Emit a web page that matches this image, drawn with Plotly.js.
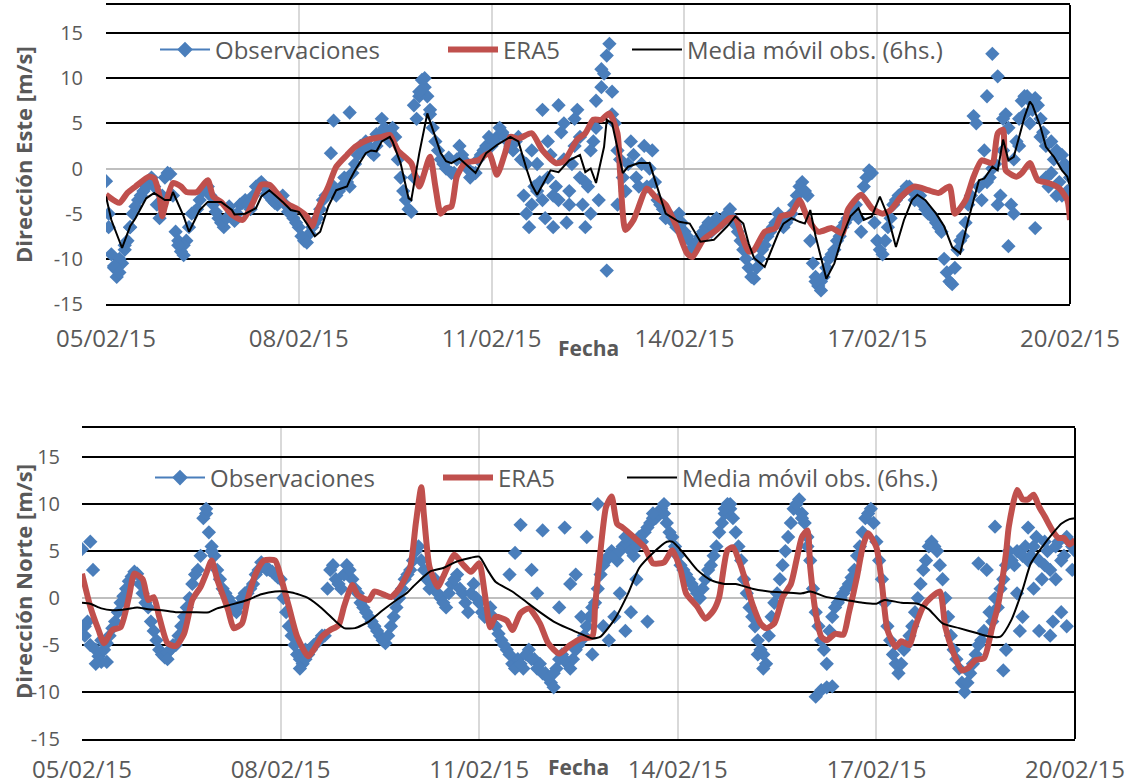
<!DOCTYPE html>
<html>
<head>
<meta charset="utf-8">
<script src="https://cdn.plot.ly/plotly-3.0.1.min.js"></script>
<style>html,body{margin:0;padding:0;background:#fff;}#chart{width:1126px;height:784px;}</style>
</head>
<body>
<div id="chart"></div>
<script>
// ---------------- DATA ----------------
const startDate = '2015-02-05';
const endDate = '2015-02-20';
const xTickDates = ['2015-02-05','2015-02-08','2015-02-11','2015-02-14','2015-02-17','2015-02-20'];
const xTickLabels = ['05/02/15','08/02/15','11/02/15','14/02/15','17/02/15','20/02/15'];
const yTickVals = [-15,-10,-5,0,5,10,15];
const yTickLabels = ['-15','-10','-5','0','5','10','15'];

// Observations are hourly: "Even" arrays hold hours 0,2,4,...,360 and "Odd" arrays hours 1,3,...,359.
// Top chart: Dirección Este
const obsTopEvenV = [
 -1.4,-9.5,-12.0,-10.5,-8.0,-5.0,-3.5,-2.5,-1.5,-2.0,-5.5,-1.0,
 -0.6,-7.0,-9.2,-8.0,-5.0,-4.5,-2.5,-2.0,-4.0,-5.5,-6.5,-4.2,
 -5.8,-4.0,-3.5,-4.5,-2.0,-1.5,-2.8,-3.5,-4.0,-3.0,-4.8,-5.5,
 -6.5,-8.0,-7.2,-6.0,-4.5,-3.0,-2.5,-3.0,-2.0,-1.5,-0.5,1.5,
 2.0,2.5,1.5,3.5,4.5,3.0,3.5,-1.0,-3.5,-4.8,5.5,9.8,
 8.0,4.5,2.0,0.5,1.2,-0.5,2.5,0.8,-1.0,-0.5,1.5,2.5,
 2.5,3.5,4.0,3.0,2.0,3.5,-3.0,-6.5,-2.0,-1.5,-5.5,1.5,
 -2.0,4.0,-6.0,0.5,6.5,-4.0,-2.0,3.0,-3.5,10.5,13.8,5.0,
 1.0,-2.5,3.0,-1.0,0.5,-2.0,2.0,-3.5,-4.5,-5.0,-6.0,-5.0,
 -7.0,-8.0,-8.5,-7.5,-6.5,-7.0,-5.5,-6.0,-5.0,-5.5,-7.0,-9.0,
 -11.0,-12.2,-10.0,-8.5,-7.0,-6.0,-5.5,-6.0,-5.0,-3.0,-1.5,-3.0,
 -10.5,-13.0,-12.0,-10.0,-9.0,-7.5,-6.0,-5.0,-4.0,-7.0,-1.0,-0.5,
 -8.0,-9.5,-6.5,-4.0,-3.0,-2.5,-2.0,-3.5,-3.0,-4.5,-5.0,-6.0,
 -7.0,-11.5,-12.8,-9.0,-7.5,-4.0,5.8,-2.0,2.0,-1.0,0.5,-3.0,
 6.0,-4.0,3.0,7.5,8.0,6.5,7.0,4.0,-2.0,1.0,-1.5,0.5,-1.0
];
const obsTopOddV = [
 -6.5,-11.0,-10.0,-9.0,-6.5,-4.2,-3.0,-2.0,-1.0,-4.0,-3.0,-0.5,
 -3.0,-8.0,-8.5,-6.5,-4.8,-3.5,-2.2,-3.0,-4.8,-6.0,-5.5,-5.0,
 -5.0,-3.8,-4.0,-3.0,-1.8,-2.0,-3.0,-3.8,-3.5,-4.0,-5.0,-6.0,
 -7.5,-8.2,-6.5,-5.5,-3.5,-2.8,-2.0,-2.5,-1.0,-2.0,0.5,2.5,
 3.0,1.8,2.5,4.0,3.5,4.5,1.0,-2.5,-4.5,-1.0,8.0,9.0,
 6.0,3.0,1.0,0.0,-0.5,1.0,1.5,0.0,-0.5,1.0,2.0,3.5,
 3.0,4.5,3.5,2.5,3.0,1.0,-5.0,-4.0,0.5,-3.5,-1.0,-3.0,
 -3.5,5.0,-2.5,2.5,3.5,-1.5,-5.0,4.5,9.0,12.5,6.0,2.0,
 -1.0,0.5,1.5,-2.0,2.5,0.0,-1.5,-4.0,-5.5,-5.5,-6.5,-6.0,
 -7.5,-8.8,-8.0,-7.0,-6.0,-6.5,-6.0,-5.5,-4.5,-6.2,-8.0,-10.0,
 -12.0,-11.0,-9.0,-7.5,-6.5,-5.0,-6.5,-5.5,-4.0,-2.0,-2.5,-8.0,
 -12.0,-12.5,-11.0,-9.5,-8.0,-6.5,-5.5,-4.5,-5.5,-2.0,-0.2,-6.0,
 -9.0,-8.0,-5.5,-3.5,-2.8,-2.0,-2.5,-3.0,-4.0,-5.0,-5.5,-6.5,
 -10.0,-12.5,-11.0,-8.0,-6.0,-3.0,5.0,-3.5,-1.5,0.0,-4.0,2.0,
 4.5,1.0,5.5,8.0,7.5,7.8,5.5,2.5,-0.5,2.0,-3.0,0.0
];
const obsTopExtraH = [1,3,5,7,9,27,29,84,85,91,97,101,103,105,115,117,119,121,157,159,161,163,165,167,169,171,173,175,177,179,181,183,185,187,189,191,265,267,329,331,333,335,337,339,341,343,345,347,349,351,353,355,357,359];
const obsTopExtraV = [-5.0,-10.8,-11.5,-8.5,-6.5,-8.5,-9.6,1.7,5.3,6.2,2.5,3.8,5.5,4.0,7.0,8.5,10.0,6.5,0.5,2.0,-2.5,6.5,3.0,-6.5,7.0,1.0,-4.0,5.5,-1.0,-6.5,2.0,7.5,11.0,-11.3,8.5,-4.0,-12.5,-13.5,8.0,12.7,10.2,5.5,-8.6,-5.0,2.5,6.0,5.0,-6.6,3.5,-1.0,3.0,-3.0,1.5,-2.5];

const eraTopH = [0,5,8,11,16,18,20,21,22,25,28,30,34,38,40,43,47,51,55,58,61,63,67,71,75,77,79,83,86,90,93,98,103,106,109,114,117,121,123,125,127,129,131,134,139,143,146,149,151,154,159,163,168,171,176,179,182,185,188,191,192,194,197,202,205,209,213,217,219,223,228,233,235,238,240,242,246,250,252,256,259,262,266,271,275,277,282,286,290,293,297,302,307,311,315,317,321,324,327,331,333,335,336,340,342,345,348,352,356,359,360];
const eraTopV = [-2.9,-3.8,-2.7,-2.0,-0.9,-1.1,-3.1,-5.3,-4.2,-1.6,-2.0,-2.6,-2.6,-1.3,-3.1,-3.7,-5.1,-5.7,-3.7,-1.8,-1.8,-2.4,-3.8,-4.4,-5.3,-6.4,-4.6,-2.0,0.2,1.5,2.4,3.2,3.5,3.7,2.0,0.6,-2.0,1.3,-2.0,-5.0,-4.4,-4.2,-0.9,0.6,0.9,1.7,-0.7,1.7,3.5,3.3,3.9,2.0,0.6,0.8,3.2,3.9,5.4,5.4,6.1,3.9,-0.5,-6.8,-5.7,-2.2,-3.1,-4.0,-6.4,-9.4,-9.8,-7.9,-6.8,-5.5,-5.5,-7.9,-9.2,-9.0,-7.0,-6.6,-5.3,-5.0,-3.5,-5.5,-7.0,-6.6,-7.2,-4.6,-2.9,-4.4,-5.0,-4.6,-3.1,-2.0,-2.4,-2.7,-2.0,-5.0,-3.5,-0.9,0.9,0.6,3.9,4.3,-0.2,-0.9,-0.5,0.6,-1.3,-1.6,-2.2,-3.5,-5.7];

const movTopH = [0,2,6,9,11,15,18,22,24,25,29,31,35,38,43,47,48,52,56,58,61,66,69,72,75,78,80,83,86,90,91,93,97,99,101,103,106,107,110,113,114,117,120,123,125,127,129,132,138,142,146,151,154,157,159,161,164,166,169,173,177,179,181,183,186,187,189,191,193,195,199,203,205,209,214,218,222,227,232,235,238,240,242,246,248,251,253,256,259,261,263,265,269,272,275,278,281,283,286,289,292,295,298,301,303,306,310,313,316,319,322,326,328,331,333,335,337,339,341,343,345,346,349,351,354,357,359,360];
const movTopV = [-3.1,-5.7,-8.8,-6.4,-5.5,-3.3,-2.7,-3.5,-3.5,-2.6,-5.3,-7.0,-4.6,-3.7,-3.7,-4.6,-5.1,-5.0,-4.4,-3.1,-2.4,-3.7,-4.6,-4.8,-6.1,-7.5,-7.0,-4.2,-2.4,-2.0,-1.3,-0.2,1.7,2.0,1.9,3.0,3.5,3.0,0.6,-3.3,-3.5,1.7,6.1,3.5,1.7,0.8,0.6,1.1,-0.5,1.7,2.6,3.5,3.0,0.0,-1.8,-2.9,-1.3,-0.2,-0.4,0.9,1.5,-0.4,0.0,-1.6,2.4,5.4,5.0,2.4,-0.5,0.2,0.6,0.6,-1.3,-5.0,-5.9,-6.1,-8.1,-7.9,-6.4,-5.3,-6.1,-8.3,-9.9,-10.9,-9.4,-7.2,-6.1,-5.5,-5.9,-6.1,-4.6,-7.5,-12.2,-10.5,-7.5,-5.3,-4.4,-5.7,-5.3,-3.1,-5.3,-8.7,-5.7,-3.5,-2.9,-3.5,-5.0,-6.4,-8.7,-9.4,-5.7,-1.3,-1.1,0.2,-0.2,3.2,0.9,1.3,3.5,5.7,7.4,7.0,4.6,2.4,1.3,-0.2,-0.9,-2.0];

// Bottom chart: Dirección Norte
const obsBotEvenV = [
 5.2,-2.5,3.0,-6.2,-5.5,-4.0,-2.5,-0.5,1.0,2.3,2.6,0.5,
 -1.0,-3.5,-5.5,-6.3,-5.5,-5.0,-3.0,-1.0,1.5,3.0,8.5,7.0,
 4.5,2.0,0.5,-0.5,-1.5,0.0,0.5,1.5,3.0,3.5,3.0,2.5,
 2.0,-1.5,-4.0,-6.0,-7.0,-6.0,-5.0,-4.5,-4.0,3.0,2.0,1.0,
 3.5,2.0,0.5,-1.0,-2.0,-3.0,-4.0,-4.8,-3.0,-1.0,1.0,2.5,
 4.0,5.5,3.0,1.0,2.0,0.0,-1.0,1.5,2.5,0.5,-1.5,1.5,
 -0.5,-2.0,-1.0,-3.0,-4.5,-5.5,-7.0,-6.5,-7.5,-5.5,-6.5,-7.0,
 -8.0,-9.0,-7.5,-6.0,-7.0,-6.5,-5.0,-4.0,-2.0,-0.5,2.5,4.0,
 5.0,4.0,5.5,6.0,4.5,6.5,7.0,8.0,8.5,9.5,8.0,6.5,
 4.5,3.0,2.0,1.0,0.0,2.0,3.5,5.5,8.0,10.0,8.5,5.5,
 2.0,-1.0,-3.0,-5.5,-7.0,-2.0,0.5,3.5,6.5,9.5,10.5,8.0,
 4.0,-1.5,-4.5,-7.0,-2.0,-0.5,0.5,1.5,3.0,5.5,8.5,9.5,
 6.0,2.0,-3.0,-6.0,-8.0,-5.5,-4.0,-1.5,1.5,4.0,6.0,5.0,
 2.0,-2.0,-5.5,-7.5,-10.0,-8.0,-6.0,-4.5,3.0,-2.5,-1.0,2.0,
 5.0,3.5,-3.5,5.5,4.5,6.5,2.0,5.0,-2.5,6.0,4.5,6.0,5.0
];
const obsBotOddV = [
 -3.0,-5.0,-5.5,-6.8,-4.8,-3.2,-1.5,0.2,1.8,2.8,1.5,-0.5,
 -2.5,-4.5,-6.0,-5.8,-5.0,-4.0,-2.0,0.0,2.5,4.5,9.0,5.5,
 3.0,1.0,0.0,-1.2,-0.8,0.5,1.0,2.5,3.8,3.0,2.8,2.2,
 0.0,-3.0,-5.0,-6.5,-6.5,-5.5,-4.8,-4.0,1.0,3.5,1.5,2.5,
 3.0,1.0,-0.5,-1.5,-2.5,-3.5,-4.5,-4.0,-2.0,0.0,2.0,3.0,
 5.0,4.0,2.0,1.5,0.5,-0.5,0.5,2.0,1.0,-0.5,0.5,0.0,
 -1.5,-1.5,-2.0,-3.8,-5.0,-6.0,-7.5,-7.0,-6.0,-6.5,-7.5,-8.0,
 -8.5,-8.0,-6.5,-6.5,-7.5,-5.5,-4.5,-3.0,-1.0,1.0,3.5,4.5,
 4.5,5.0,6.5,5.0,5.5,6.0,7.5,8.5,9.0,9.0,7.0,5.5,
 3.5,2.5,1.5,0.5,1.0,3.0,4.5,7.0,9.0,9.5,7.0,4.0,
 0.5,-2.0,-4.5,-6.0,-4.0,-0.5,2.0,5.0,8.0,10.0,9.0,6.5,
 1.0,-3.0,-5.5,-3.5,-1.0,0.0,1.0,2.2,4.5,7.0,9.0,8.0,
 4.0,-0.5,-4.5,-7.0,-7.0,-5.0,-3.0,0.0,3.0,5.5,5.5,3.5,
 0.0,-4.0,-6.5,-9.0,-9.0,-7.0,-5.0,-3.5,-1.5,0.0,1.0,3.5,
 4.0,5.0,4.5,4.0,5.5,4.0,6.0,3.0,5.5,4.0,6.5,5.5
];
const obsBotExtraH = [1,3,5,7,9,31,45,47,79,81,155,157,159,163,165,167,171,173,175,177,179,181,183,185,187,189,191,193,195,197,199,201,205,207,211,233,235,245,247,259,261,263,266,268,270,272,325,331,334,335,339,341,343,345,347,349,351,353,355,357,359];
const obsBotExtraV = [-4.0,6.0,-7.0,-4.5,-6.8,-6.5,9.5,5.0,-7.5,-5.5,2.5,4.8,7.8,3.0,0.5,7.2,-9.5,-1.0,7.5,1.5,2.5,-2.0,6.5,-6.0,10.0,-3.0,-4.5,-2.0,0.5,-3.5,-1.5,2.0,-2.5,9.0,10.0,9.5,10.0,-6.0,-7.5,10.0,8.5,5.5,-10.5,-9.8,-9.5,-9.4,3.7,7.6,-7.7,-5.5,0.5,-2.0,7.5,1.0,-3.5,3.5,-4.0,2.0,-1.5,-3.0,3.0];

const eraBotH = [0,3,6,8,11,14,17,19,22,24,26,28,31,34,37,40,43,45,47,49,53,55,58,60,63,66,70,72,75,78,82,84,87,90,93,95,98,100,104,106,110,112,115,119,121,123,124,126,129,131,135,138,141,144,146,148,150,154,156,159,162,166,169,173,177,181,185,186,188,190,192,194,196,200,204,207,211,214,217,219,223,226,229,231,234,236,239,243,246,248,251,254,257,259,261,263,264,266,268,270,273,276,278,281,283,285,288,290,292,295,297,300,302,305,308,311,313,316,319,321,324,327,330,332,335,336,339,341,343,345,347,349,352,354,356,358,360];
const eraBotV = [2.6,-0.9,-3.4,-4.8,-3.4,-3.1,0.1,2.6,2.0,-0.2,0.1,-2.0,-4.8,-5.1,-3.8,-0.2,1.2,2.6,4.0,2.0,-1.3,-3.2,-2.7,-0.2,2.6,4.0,4.0,2.3,-0.9,-4.1,-6.2,-5.5,-4.1,-3.4,-2.9,-0.9,1.4,0.3,-0.2,0.7,0.3,0.1,1.0,3.3,7.9,11.8,8.7,3.3,1.2,2.3,4.6,3.6,2.8,3.7,0.5,-3.1,-2.0,-2.4,-3.4,-1.6,-1.1,-2.7,-4.8,-5.9,-5.0,-4.3,-4.1,-0.9,5.1,9.7,10.8,7.9,7.5,6.5,5.4,3.7,3.8,5.1,3.0,0.5,-0.9,-2.2,-1.3,0.1,5.1,5.4,3.3,-0.6,-2.7,-3.2,-2.7,0.1,1.5,4.0,6.5,7.2,3.3,-1.6,-4.1,-4.5,-3.8,-3.9,-1.6,2.3,5.4,6.9,5.4,1.5,-3.4,-5.2,-4.6,-5.0,-3.1,-0.9,0.1,0.7,-3.1,-5.9,-7.7,-7.5,-6.6,-6.4,-3.1,-0.9,4.8,7.6,11.5,10.5,10.5,11.0,9.7,8.7,7.1,6.4,6.4,5.7,6.2];

const movBotH = [0,3,7,11,16,20,24,29,34,40,46,49,54,60,65,70,76,82,87,92,95,99,104,109,114,118,120,126,131,136,141,144,147,150,156,161,166,171,176,180,185,188,193,198,202,207,212,214,218,223,228,233,237,243,249,255,261,264,270,277,283,288,291,297,303,307,312,318,324,329,333,337,341,344,348,352,355,358,360];
const movBotV = [-0.5,-0.6,-1.1,-1.3,-1.2,-1.0,-1.2,-1.3,-1.5,-1.5,-1.5,-1.1,-0.7,-0.2,0.4,0.7,0.6,0.0,-1.1,-2.5,-3.2,-3.2,-2.5,-1.3,-0.2,0.6,1.2,2.8,3.2,3.9,4.3,4.4,3.0,1.7,0.7,-0.4,-1.5,-2.5,-3.2,-3.7,-4.3,-4.1,-2.3,0.5,3.2,4.8,6.0,6.0,4.8,3.0,1.9,1.5,1.5,1.0,0.7,0.6,0.5,0.7,0.1,-0.2,-0.5,-0.6,-0.2,-0.5,-0.6,-1.2,-2.7,-3.2,-3.7,-4.1,-4.1,-2.3,0.9,3.7,5.4,6.9,7.9,8.4,8.5];

// ---------------- HELPERS ----------------
const t0 = Date.UTC(2015, 1, 5);
function hToDate(h) {
  const d = new Date(t0 + h * 3600000);
  const p = n => String(n).padStart(2, '0');
  return d.getUTCFullYear() + '-' + p(d.getUTCMonth() + 1) + '-' + p(d.getUTCDate()) + ' ' + p(d.getUTCHours()) + ':' + p(d.getUTCMinutes());
}

const FONT = 'Open Sans';
const GRAY = '#595959';
const BLUE = '#4A7EBB';
const RED = '#C0504D';
const W = 1126, H = 784;
const px = v => v / W;
const py = v => 1 - v / H;

function makeTraces(evenV, oddV, exH, exV, eraH, eraV, movH, movV, xa, ya, lg, movShape) {
  const ox = evenV.map((_, i) => hToDate(2 * i))
    .concat(oddV.map((_, i) => hToDate(2 * i + 1)))
    .concat(exH.map(hToDate));
  const oy = evenV.concat(oddV).concat(exV);
  return [
    {x: ox, y: oy, xaxis: xa, yaxis: ya, type: 'scatter', mode: 'markers', showlegend: false,
     marker: {symbol: 'diamond', size: 11, color: BLUE}},
    {x: [null], y: [null], xaxis: xa, yaxis: ya, type: 'scatter', mode: 'lines+markers', name: 'Observaciones',
     legend: lg[0], line: {color: BLUE, width: 2}, marker: {symbol: 'diamond', size: 12, color: BLUE}},
    {x: eraH.map(hToDate), y: eraV, xaxis: xa, yaxis: ya, type: 'scatter', mode: 'lines', name: 'ERA5',
     legend: lg[1], line: {color: RED, width: 6, shape: 'spline', smoothing: 0.6}},
    {x: movH.map(hToDate), y: movV, xaxis: xa, yaxis: ya, type: 'scatter', mode: 'lines', name: 'Media móvil obs. (6hs.)',
     legend: lg[2], line: {color: '#000000', width: 2, shape: movShape, smoothing: 0.6}}
  ];
}

const data = []
  .concat(makeTraces(obsTopEvenV, obsTopOddV, obsTopExtraH, obsTopExtraV, eraTopH, eraTopV, movTopH, movTopV, 'x', 'y', ['legend','legend2','legend3'], 'linear'))
  .concat(makeTraces(obsBotEvenV, obsBotOddV, obsBotExtraH, obsBotExtraV, eraBotH, eraBotV, movBotH, movBotV, 'x2', 'y2', ['legend4','legend5','legend6'], 'spline'));

function xAxis(dom, anchor, tl) {
  return {domain: dom, anchor: anchor, type: 'date', range: [startDate, endDate],
    tickmode: 'array', tickvals: xTickDates, ticktext: xTickLabels,
    showgrid: true, gridcolor: '#D9D9D9', gridwidth: 2, zeroline: false,
    showline: true, mirror: true, linecolor: '#000', linewidth: 2,
    ticks: 'outside', ticklen: tl, tickcolor: 'rgba(0,0,0,0)',
    tickfont: {family: FONT, size: 24, color: GRAY}, fixedrange: true};
}
function yAxis(dom, anchor, tl) {
  return {domain: dom, anchor: anchor, range: [-15, 18.1],
    tickmode: 'array', tickvals: yTickVals, ticktext: yTickLabels,
    showgrid: true, gridcolor: '#000', gridwidth: 2,
    zeroline: true, zerolinecolor: '#BFBFBF', zerolinewidth: 2, showline: false,
    ticks: 'outside', ticklen: tl, tickcolor: 'rgba(0,0,0,0)',
    tickfont: {family: FONT, size: 20, color: GRAY}, fixedrange: true};
}
function legendAt(xp, yp) {
  return {x: px(xp), y: py(yp), xanchor: 'left', yanchor: 'middle', orientation: 'h',
    bgcolor: 'rgba(0,0,0,0)', borderwidth: 0, itemwidth: 50,
    font: {family: FONT, size: 24, color: GRAY}};
}

const layout = {
  width: W, height: H, margin: {l: 0, r: 0, t: 0, b: 0},
  paper_bgcolor: '#fff', plot_bgcolor: '#fff', showlegend: true,
  font: {family: FONT, color: GRAY},
  xaxis: xAxis([px(106), px(1070)], 'y', 12),
  yaxis: yAxis([py(304), py(5)], 'x', 18),
  xaxis2: xAxis([px(82), px(1075)], 'y2', 8),
  yaxis2: yAxis([py(739), py(428)], 'x2', 17),
  legend: legendAt(155, 50),
  legend2: legendAt(443, 50),
  legend3: legendAt(627, 50),
  legend4: legendAt(150, 478),
  legend5: legendAt(438, 478),
  legend6: legendAt(622, 478),
  shapes: [
    {type: 'line', xref: 'x domain', yref: 'y domain', x0: 1, x1: 1, y0: 0, y1: 1, line: {color: '#000', width: 2}},
    {type: 'line', xref: 'x2 domain', yref: 'y2 domain', x0: 1, x1: 1, y0: 0, y1: 1, line: {color: '#000', width: 2}}
  ],
  annotations: [
    {xref: 'paper', yref: 'paper', x: px(23), y: py(155), xanchor: 'center', yanchor: 'middle',
     text: '<b>Dirección Este [m/s]</b>', textangle: -90, showarrow: false, font: {family: FONT, size: 22, color: GRAY}},
    {xref: 'paper', yref: 'paper', x: px(23), y: py(582), xanchor: 'center', yanchor: 'middle',
     text: '<b>Dirección Norte [m/s]</b>', textangle: -90, showarrow: false, font: {family: FONT, size: 22, color: GRAY}},
    {xref: 'paper', yref: 'paper', x: px(588), y: py(348), xanchor: 'center', yanchor: 'middle',
     text: '<b>Fecha</b>', showarrow: false, font: {family: FONT, size: 21, color: GRAY}},
    {xref: 'paper', yref: 'paper', x: px(578), y: py(767), xanchor: 'center', yanchor: 'middle',
     text: '<b>Fecha</b>', showarrow: false, font: {family: FONT, size: 21, color: GRAY}}
  ]
};

Plotly.newPlot('chart', data, layout, {displayModeBar: false, staticPlot: true});
</script>
</body>
</html>
